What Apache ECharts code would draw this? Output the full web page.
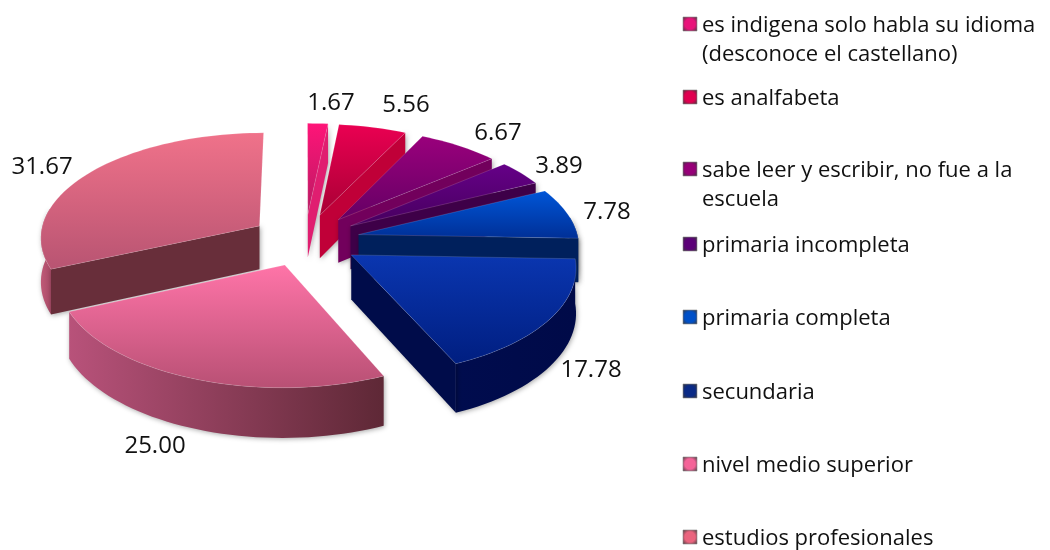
<!DOCTYPE html>
<html>
<head>
<meta charset="utf-8">
<style>
  html, body { margin: 0; padding: 0; background: #fff; }
  #chart { width: 1050px; height: 550px; }
</style>
<script src="https://cdn.jsdelivr.net/npm/echarts@6/dist/echarts.min.js"></script>
</head>
<body>
<div id="chart"></div>
<script>
const categories = [
  "es indigena solo habla su idioma\n(desconoce el castellano)",
  "es analfabeta",
  "sabe leer y escribir, no fue a la\nescuela",
  "primaria incompleta",
  "primaria completa",
  "secundaria",
  "nivel medio superior",
  "estudios profesionales",
];
const values = [1.67, 5.56, 6.67, 3.89, 7.78, 17.78, 25.0, 31.67];

// styles, same order as categories
const topColors = [
  ["#ff1478", "#b81a62"], ["#ea0052", "#a80034"], ["#9a007c", "#640064"], ["#660088", "#46005e"],
  ["#0056d8", "#002f96"], ["#0a36b0", "#001e80"], ["#ff74a8", "#b85074"], ["#f0728a", "#b85472"],
];
const wallColors = ["#e01e70", "#c00038", "#72005c", "#3e0048", "#00205c", "#000c4a", "#6a2c40", "#682e3a"];
const sideColors = [
  ["#e01e70", "#e01e70"], ["#c00038", "#c00038"], ["#72005c", "#72005c"], ["#3e0048", "#3e0048"],
  ["#00205c", "#00205c"], ["#000c4e", "#000a48"], ["#b8527a", "#5e2836"], ["#c05a78", "#a84a66"],
];
const legendColors = ["#e8147a", "#e00050", "#960078", "#5c0078", "#0050c8", "#0a2a86", "#f46498", "#ea647e"];
const legendTops = [26, 99, 171, 246, 319, 393, 466, 539];
const labelPos = [[331, 103], [406, 105], [498, 133], [559, 166], [607, 212], [591, 370], [155, 446], [42, 167]];

// pie geometry: oblique view with a bit of perspective
const cx = 305, cy = 240, rx = 220, ry = 105, persp = 0.1, explode = 0.25, depth = 44;
const fontName = '"Open Sans"';

const total = values.reduce((a, b) => a + b, 0);
let acc = 0;
const starts = values.map((v) => { const s = acc; acc += v; return (s / total) * 360; });
// back slices first, the front two last
const drawOrder = [0, 1, 2, 3, 4, 5, 7, 6];

const rad = (d) => (d * Math.PI) / 180;

function project(u, v, h) {
  const s = 1 / (1 - persp * v);
  return [cx + rx * u * s, cy + ry * v * s + h * s];
}

function gradient(stops, horizontal) {
  return {
    type: "linear", x: 0, y: 0, x2: horizontal ? 1 : 0, y2: horizontal ? 0 : 1,
    colorStops: [{ offset: 0, color: stops[0] }, { offset: 1, color: stops[1] }],
  };
}

function renderSlice(params, api) {
  const i = api.value(2);
  const a0 = api.value(1);
  const a1 = a0 + (api.value(0) / total) * 360;
  const mid = rad((a0 + a1) / 2);
  const ou = explode * Math.sin(mid), ov = -explode * Math.cos(mid);
  const rim = (deg, h) => project(ou + Math.sin(rad(deg)), ov - Math.cos(rad(deg)), h);
  const tip = (h) => project(ou, ov, h);
  const arc = (from, to, h) => {
    const pts = [];
    const n = Math.max(2, Math.ceil(Math.abs(to - from) / 2));
    for (let j = 0; j <= n; j++) pts.push(rim(from + ((to - from) * j) / n, h));
    return pts;
  };
  const poly = (points, fill, extra) => ({
    type: "polygon", shape: { points: points }, style: Object.assign({ fill: fill }, extra || {}),
  });
  const shadow = { shadowBlur: 5, shadowColor: "rgba(0,0,0,0.35)", shadowOffsetX: 1, shadowOffsetY: 1 };
  const children = [];

  // outer skin, only the part turned to the viewer
  const sa = Math.max(a0, 80), sb = Math.min(a1, 280);
  if (sb > sa) {
    children.push(poly(arc(sa, sb, 0).concat(arc(sb, sa, depth)), gradient(sideColors[i], true), shadow));
  }
  // cut faces
  if (Math.sin(rad(a0)) < -0.01) {
    children.push(poly([tip(0), rim(a0, 0), rim(a0, depth), tip(depth)], wallColors[i], shadow));
  }
  if (Math.sin(rad(a1)) > 0.01) {
    children.push(poly([tip(0), rim(a1, 0), rim(a1, depth), tip(depth)], wallColors[i], shadow));
  }
  // top
  children.push(poly([tip(0)].concat(arc(a0, a1, 0)), gradient(topColors[i], false), { stroke: "rgba(255,255,255,0.18)", lineWidth: 0.8 }));
  return { type: "group", children: children };
}

const labelGraphics = values.map((v, i) => ({
  type: "text", x: labelPos[i][0], y: labelPos[i][1],
  style: { text: v.toFixed(2), font: "24px " + fontName, fill: "#111", textAlign: "center", textVerticalAlign: "middle" },
}));

const legendGraphics = categories.flatMap((name, i) => {
  const lines = name.split("\n");
  const y = legendTops[i];
  const items = [{
    type: "rect", shape: { x: 683, y: y - 9, width: 14, height: 14 },
    style: {
      fill: {
        type: "radial", x: 0.5, y: 0.5, r: 0.7,
        colorStops: [{ offset: 0, color: legendColors[i] }, { offset: 0.5, color: legendColors[i] }, { offset: 1, color: "#3a3a3a" }],
      },
      stroke: "#8a8a8a", lineWidth: 0.6,
    },
  }];
  lines.forEach((line, j) => items.push({
    type: "text", x: 702, y: y + j * 29,
    style: { text: line, font: "22px " + fontName, fill: "#111", textVerticalAlign: "middle" },
  }));
  return items;
});

const chart = echarts.init(document.getElementById("chart"));
chart.setOption({
  animation: false,
  backgroundColor: "#fff",
  graphic: { elements: labelGraphics.concat(legendGraphics) },
  series: [
    {
      type: "custom",
      coordinateSystem: "none",
      renderItem: renderSlice,
      silent: true,
      data: drawOrder.map((i) => [values[i], starts[i], i]),
    },
  ],
});
</script>
</body>
</html>
